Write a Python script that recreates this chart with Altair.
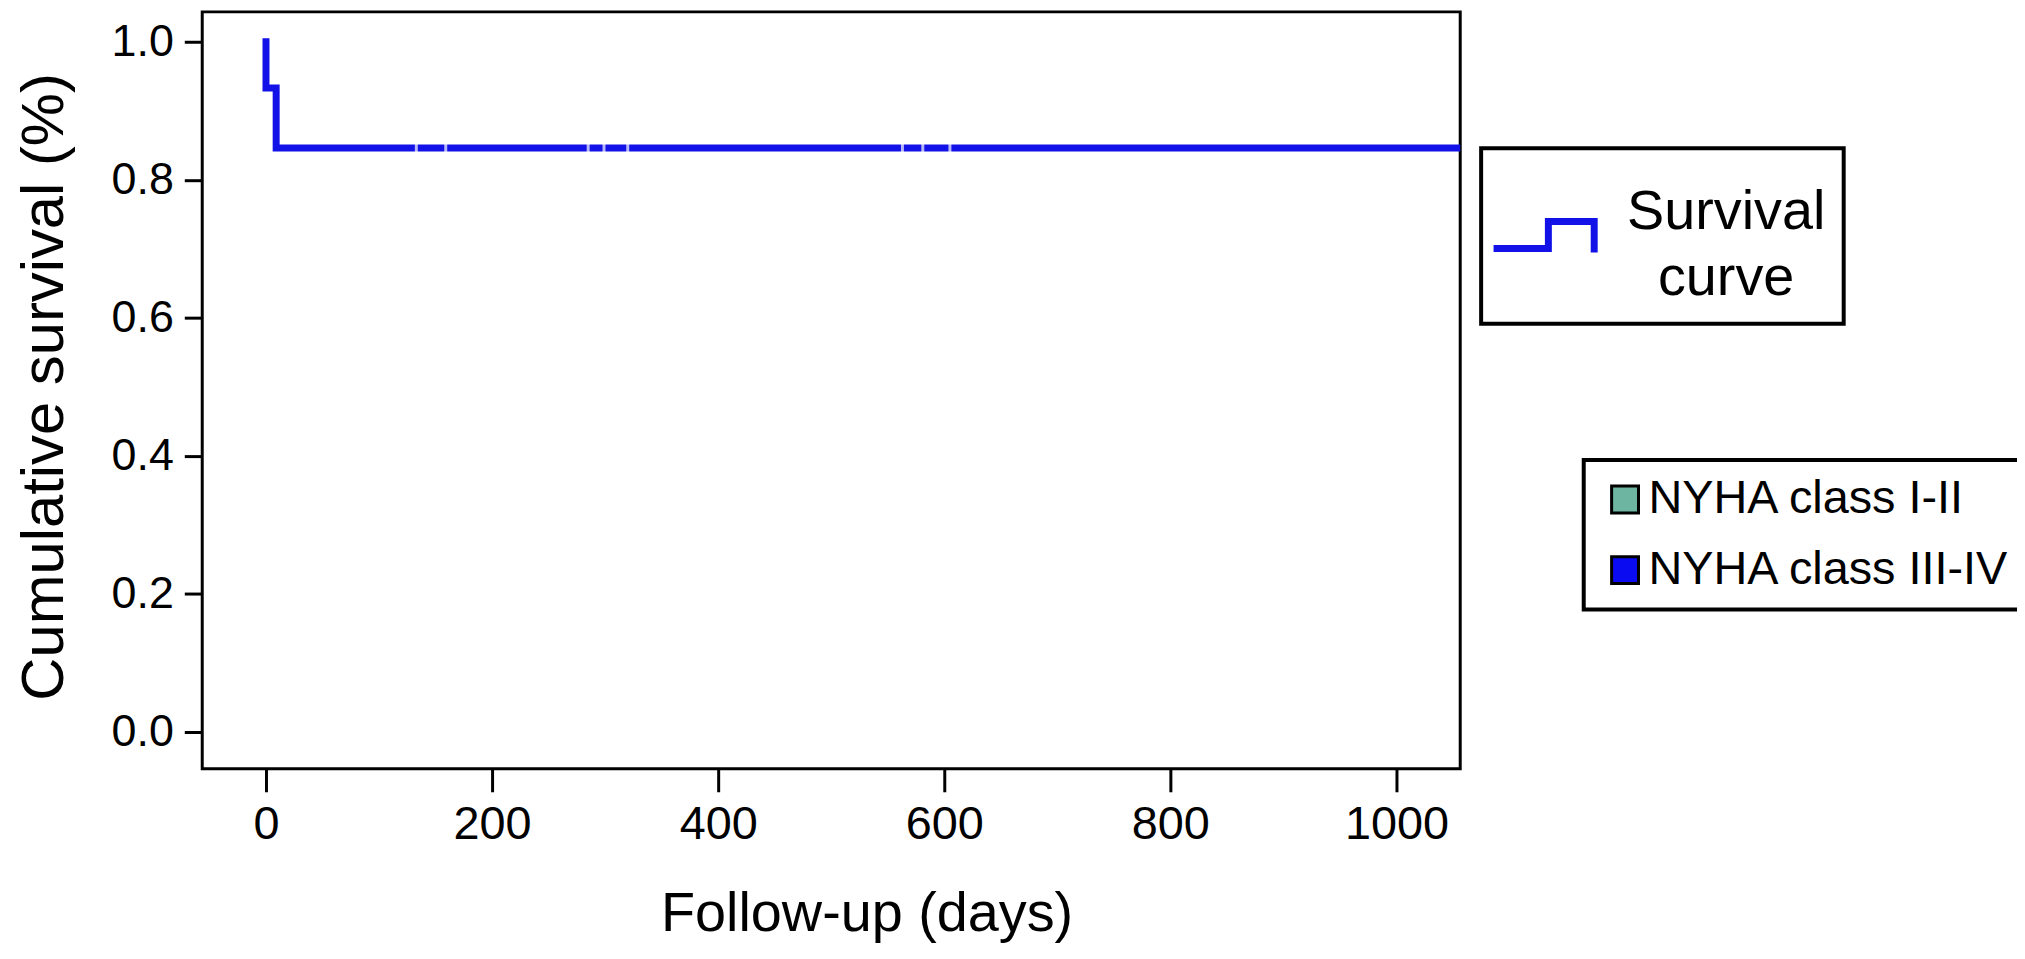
import altair as alt
import pandas as pd

# ---------------- data ----------------
curve_days = [0, 0, 9, 1056]
curve_survival = [1.0, 0.933, 0.846, 0.846]
curve_order = [0, 1, 2, 3]
curve_label = ["Survival curve"]

censor_days = [133, 159, 285, 299, 320, 563, 581, 605]
censor_survival = [0.846, 0.846, 0.846, 0.846, 0.846, 0.846, 0.846, 0.846]

x_ticks = [0, 200, 400, 600, 800, 1000]
y_ticks = [0.0, 0.2, 0.4, 0.6, 0.8, 1.0]

groups = ["NYHA class I-II", "NYHA class III-IV"]
group_colors = ["#6DB5A0", "#0B0BF2"]
curve_color = "#1212E8"

x_domain = [-56.4, 1056.4]
y_domain = [-0.0534, 1.0433]

FONT = "Liberation Sans"

curve_df = pd.DataFrame({
    "day": curve_days,
    "survival": curve_survival,
    "order": curve_order,
    "series": curve_label * len(curve_days),
})
censor_df = pd.DataFrame({"day": censor_days, "survival": censor_survival})
group_df = pd.DataFrame({"group": groups})

x_scale = alt.Scale(domain=x_domain, nice=False, zero=False)
y_scale = alt.Scale(domain=y_domain, nice=False, zero=False)

x_axis = alt.Axis(
    values=x_ticks, format="d", domain=False, grid=False,
    tickSize=23, tickWidth=3, tickColor="black",
    labelFontSize=47, labelFont=FONT, labelColor="black", labelPadding=10,
    labelFlush=False, labelOverlap=False,
    titleFontSize=56, titleFont=FONT, titleFontWeight="normal", titleColor="black",
    titleX=667, titleY=162, titleBaseline="alphabetic", titleAlign="center",
)
y_axis = alt.Axis(
    values=y_ticks, format=".1f", domain=False, grid=False,
    tickSize=18, tickWidth=3, tickColor="black",
    labelFontSize=45, labelFont=FONT, labelColor="black", labelPadding=11,
    labelFlush=False, labelOverlap=False,
    titleFontSize=60, titleFont=FONT, titleFontWeight="normal", titleColor="black",
    titleX=-140, titleY=376, titleAngle=270, titleBaseline="alphabetic", titleAlign="center",
)

# step-shaped legend glyph (extra move-to points only size the legend box)
step_icon = ("M-1,-0.944M-1,1.05M3.71,0"
             "M-0.958,0.282L-0.183,0.282L-0.183,-0.099L0.465,-0.099L0.465,0.338")

legend_curve = alt.Legend(
    title=None, orient="none", legendX=1284, legendY=137,
    padding=6, strokeColor="black", fillColor="white", cornerRadius=0,
    symbolType=step_icon, symbolSize=142 * 142, symbolStrokeWidth=7,
    symbolFillColor="transparent",
    labelFontSize=56, labelFont=FONT, labelColor="black",
    labelAlign="center", labelBaseline="alphabetic", labelOffset=91, labelLimit=0,
    labelExpr="['Survival', 'curve']",
)

legend_groups = alt.Legend(
    title=None, orient="none", legendX=1387, legendY=450,
    padding=16, strokeColor="black", fillColor="white", cornerRadius=0,
    symbolType="square", symbolSize=729, symbolStrokeWidth=3,
    symbolStrokeColor="black", symbolOpacity=1, symbolOffset=2,
    labelFontSize=47, labelFont=FONT, labelColor="black",
    labelOffset=0, labelLimit=0, rowPadding=23,
)

line = alt.Chart(curve_df).mark_line(
    interpolate="step-after", strokeWidth=7, strokeCap="square", clip=True
).encode(
    x=alt.X("day:Q", scale=x_scale, axis=x_axis, title="Follow-up (days)"),
    y=alt.Y("survival:Q", scale=y_scale, axis=y_axis, title="Cumulative survival (%)"),
    order=alt.Order("order:Q"),
    stroke=alt.Stroke("series:N", scale=alt.Scale(domain=curve_label, range=[curve_color]),
                      legend=legend_curve),
)

censor = alt.Chart(censor_df).mark_tick(
    color="white", orient="vertical", size=9, thickness=3
).encode(
    x=alt.X("day:Q", scale=x_scale),
    y=alt.Y("survival:Q", scale=y_scale),
)

group_key = alt.Chart(group_df).mark_square(opacity=0).encode(
    fill=alt.Fill("group:N", scale=alt.Scale(domain=groups, range=group_colors),
                  legend=legend_groups),
)

chart = alt.layer(line, censor, group_key).properties(
    width=1263, height=760,
    padding={"left": 195, "top": 2, "right": 559, "bottom": 189},
    autosize=alt.AutoSizeParams(type="none"),
    background="white",
).configure(
    font=FONT,
    style={"guide-label": {"lineHeight": 67}},
).configure_view(
    stroke="black", strokeWidth=3
).configure_legend(
    strokeWidth=4
)

chart.save("out.html", embed_options={"renderer": "svg", "actions": False})
